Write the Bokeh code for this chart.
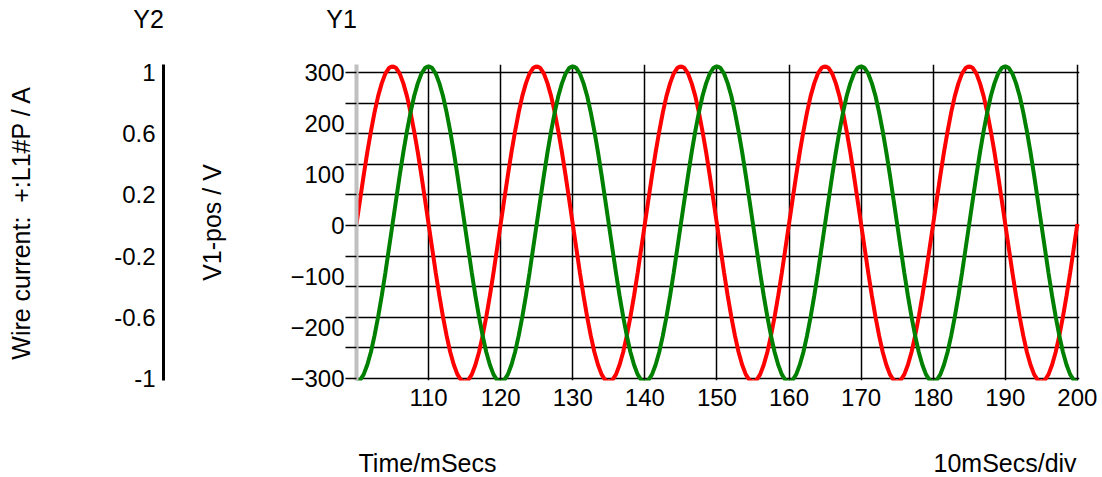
from bokeh.plotting import figure
from bokeh.models import Range1d, FixedTicker, Label, LinearAxis
from bokeh.layouts import row, column
from bokeh.embed import file_html
from bokeh.resources import INLINE

# ---------------- data ----------------
time_ms = [100 + 0.5 * i for i in range(201)]

# V1-pos / V  (red, Y1)
v1_pos = [
    3, 51, 99, 144, 185, 222, 254, 279, 298, 309, 313, 309, 298, 279, 254, 222, 185, 144, 99, 51,
    3, -45, -93, -138, -179, -216, -248, -273, -292, -303, -307, -303, -292, -273, -248, -216, -179, -138, -93, -45,
    3, 51, 99, 144, 185, 222, 254, 279, 298, 309, 313, 309, 298, 279, 254, 222, 185, 144, 99, 51,
    3, -45, -93, -138, -179, -216, -248, -273, -292, -303, -307, -303, -292, -273, -248, -216, -179, -138, -93, -45,
    3, 51, 99, 144, 185, 222, 254, 279, 298, 309, 313, 309, 298, 279, 254, 222, 185, 144, 99, 51,
    3, -45, -93, -138, -179, -216, -248, -273, -292, -303, -307, -303, -292, -273, -248, -216, -179, -138, -93, -45,
    3, 51, 99, 144, 185, 222, 254, 279, 298, 309, 313, 309, 298, 279, 254, 222, 185, 144, 99, 51,
    3, -45, -93, -138, -179, -216, -248, -273, -292, -303, -307, -303, -292, -273, -248, -216, -179, -138, -93, -45,
    3, 51, 99, 144, 185, 222, 254, 279, 298, 309, 313, 309, 298, 279, 254, 222, 185, 144, 99, 51,
    3, -45, -93, -138, -179, -216, -248, -273, -292, -303, -307, -303, -292, -273, -248, -216, -179, -138, -93, -45,
    3,
]

# Wire current: +:L1#P / A  (green, Y2)
wire_current = [
    -1.023, -1.010, -0.973, -0.910, -0.827, -0.720, -0.597, -0.460, -0.310, -0.150,
    0.010, 0.170, 0.330, 0.480, 0.617, 0.740, 0.847, 0.930, 0.993, 1.030,
    1.043, 1.030, 0.993, 0.930, 0.847, 0.740, 0.617, 0.480, 0.330, 0.170,
    0.010, -0.150, -0.310, -0.460, -0.597, -0.720, -0.827, -0.910, -0.973, -1.010,
    -1.023, -1.010, -0.973, -0.910, -0.827, -0.720, -0.597, -0.460, -0.310, -0.150,
    0.010, 0.170, 0.330, 0.480, 0.617, 0.740, 0.847, 0.930, 0.993, 1.030,
    1.043, 1.030, 0.993, 0.930, 0.847, 0.740, 0.617, 0.480, 0.330, 0.170,
    0.010, -0.150, -0.310, -0.460, -0.597, -0.720, -0.827, -0.910, -0.973, -1.010,
    -1.023, -1.010, -0.973, -0.910, -0.827, -0.720, -0.597, -0.460, -0.310, -0.150,
    0.010, 0.170, 0.330, 0.480, 0.617, 0.740, 0.847, 0.930, 0.993, 1.030,
    1.043, 1.030, 0.993, 0.930, 0.847, 0.740, 0.617, 0.480, 0.330, 0.170,
    0.010, -0.150, -0.310, -0.460, -0.597, -0.720, -0.827, -0.910, -0.973, -1.010,
    -1.023, -1.010, -0.973, -0.910, -0.827, -0.720, -0.597, -0.460, -0.310, -0.150,
    0.010, 0.170, 0.330, 0.480, 0.617, 0.740, 0.847, 0.930, 0.993, 1.030,
    1.043, 1.030, 0.993, 0.930, 0.847, 0.740, 0.617, 0.480, 0.330, 0.170,
    0.010, -0.150, -0.310, -0.460, -0.597, -0.720, -0.827, -0.910, -0.973, -1.010,
    -1.023, -1.010, -0.973, -0.910, -0.827, -0.720, -0.597, -0.460, -0.310, -0.150,
    0.010, 0.170, 0.330, 0.480, 0.617, 0.740, 0.847, 0.930, 0.993, 1.030,
    1.043, 1.030, 0.993, 0.930, 0.847, 0.740, 0.617, 0.480, 0.330, 0.170,
    0.010, -0.150, -0.310, -0.460, -0.597, -0.720, -0.827, -0.910, -0.973, -1.010,
    -1.023,
]

x_ticks = [110, 120, 130, 140, 150, 160, 170, 180, 190, 200]
y1_label_ticks = [-300, -200, -100, 0, 100, 200, 300]
y1_grid_ticks = [-300, -240, -180, -120, -60, 0, 60, 120, 180, 240, 300]
y2_ticks = [-1, -0.6, -0.2, 0.2, 0.6, 1]
y2_labels = ["-1", "-0.6", "-0.2", "0.2", "0.6", "1"]

# ---------------- style ----------------
FONT = "Liberation Sans"
FS_TICK = "24px"
FS_TEXT = "25px"
TOTAL_W = 1100
TOP_H, MID_H, BOT_H = 40, 406, 30
LEFT_W = 178

y1_range = Range1d(-304, 316)
y2_range = Range1d(-1.0133, 1.0533)


def strip(height):
    s = figure(width=TOTAL_W, height=height, x_range=Range1d(0, TOTAL_W), y_range=Range1d(0, height),
               output_backend="svg", toolbar_location=None,
               x_axis_location=None, y_axis_location=None, min_border=0)
    s.outline_line_color = None
    s.grid.visible = False
    return s


txt = dict(x_units="screen", y_units="screen", text_font=FONT, text_font_size=FS_TEXT, text_color="black")

# ---------- top strip: Y2 / Y1 headers ----------
top = strip(TOP_H)
top.add_layout(Label(x=148, y=TOP_H - 18, text="Y2", text_align="center", text_baseline="middle", **txt))
top.add_layout(Label(x=341, y=TOP_H - 18, text="Y1", text_align="center", text_baseline="middle", **txt))

# ---------- left figure: Y2 axis ----------
pl = figure(width=LEFT_W, height=MID_H, x_range=Range1d(0, 1), y_range=y2_range,
            output_backend="svg", toolbar_location=None,
            x_axis_location=None, y_axis_location=None,
            min_border_left=163, min_border_right=0, min_border_top=24, min_border_bottom=66)
pl.outline_line_color = None
pl.grid.visible = False
ax2 = LinearAxis(ticker=FixedTicker(ticks=y2_ticks),
                 major_label_overrides={t: s for t, s in zip(y2_ticks, y2_labels)})
ax2.axis_line_color = "black"
ax2.axis_line_width = 3
ax2.major_tick_line_color = None
ax2.minor_tick_line_color = None
ax2.major_tick_out = 0
ax2.major_tick_in = 0
ax2.minor_tick_out = 0
ax2.minor_tick_in = 0
ax2.major_label_standoff = 8
ax2.major_label_text_font = FONT
ax2.major_label_text_font_size = FS_TICK
ax2.major_label_text_color = "black"
ax2.axis_label = "Wire current: \u00a0+:L1#P / A"
ax2.axis_label_text_font = FONT
ax2.axis_label_text_font_size = FS_TEXT
ax2.axis_label_text_font_style = "normal"
ax2.axis_label_text_color = "black"
ax2.axis_label_standoff = 76
pl.add_layout(ax2, "left")

# ---------- main figure ----------
p = figure(width=TOTAL_W - LEFT_W, height=MID_H, x_range=Range1d(100, 200.3), y_range=y1_range,
           output_backend="svg", toolbar_location=None,
           min_border_left=178, min_border_right=21, min_border_top=24, min_border_bottom=66)
p.extra_y_ranges = {"y2": y2_range}
p.outline_line_color = None

xt = FixedTicker(ticks=x_ticks)
p.xaxis.ticker = xt
p.xaxis.axis_line_color = None
p.xaxis.major_tick_line_color = None
p.xaxis.minor_tick_line_color = None
p.xaxis.major_tick_out = 0
p.xaxis.minor_tick_out = 0
p.xaxis.major_label_standoff = 8
p.xaxis.major_label_text_font = FONT
p.xaxis.major_label_text_font_size = FS_TICK
p.xaxis.major_label_text_color = "black"

p.yaxis.ticker = FixedTicker(ticks=y1_label_ticks, minor_ticks=y1_grid_ticks)
p.yaxis.axis_line_color = "#c0c0c0"
p.yaxis.axis_line_width = 4
p.yaxis.major_tick_line_color = None
p.yaxis.major_tick_out = 0
p.yaxis.major_tick_in = 0
p.yaxis.minor_tick_line_color = "black"
p.yaxis.minor_tick_line_width = 1.5
p.yaxis.minor_tick_out = 11
p.yaxis.minor_tick_in = 0
p.yaxis.major_label_standoff = 1
p.yaxis.major_label_text_font = FONT
p.yaxis.major_label_text_font_size = FS_TICK
p.yaxis.major_label_text_color = "black"
p.yaxis.axis_label = "V1-pos / V"
p.yaxis.axis_label_text_font = FONT
p.yaxis.axis_label_text_font_size = FS_TEXT
p.yaxis.axis_label_text_font_style = "normal"
p.yaxis.axis_label_text_color = "black"
p.yaxis.axis_label_standoff = 61

p.xgrid.ticker = xt
p.xgrid.grid_line_color = "black"
p.xgrid.grid_line_width = 1.5
p.ygrid.ticker = FixedTicker(ticks=y1_grid_ticks)
p.ygrid.grid_line_color = "black"
p.ygrid.grid_line_width = 1.5

p.line(time_ms, v1_pos, line_color="#ff0000", line_width=4)
p.line(time_ms, wire_current, line_color="#008000", line_width=4, y_range_name="y2")

# ---------- bottom strip: axis caption texts ----------
bot = strip(BOT_H)
bot.add_layout(Label(x=358, y=BOT_H - 2, text="Time/mSecs", text_align="left", text_baseline="top", **txt))
bot.add_layout(Label(x=933, y=BOT_H - 2, text="10mSecs/div", text_align="left", text_baseline="top", **txt))

layout = column(top, row(pl, p, spacing=0), bot, spacing=0)
open("out.html", "w").write(file_html(layout, INLINE))
